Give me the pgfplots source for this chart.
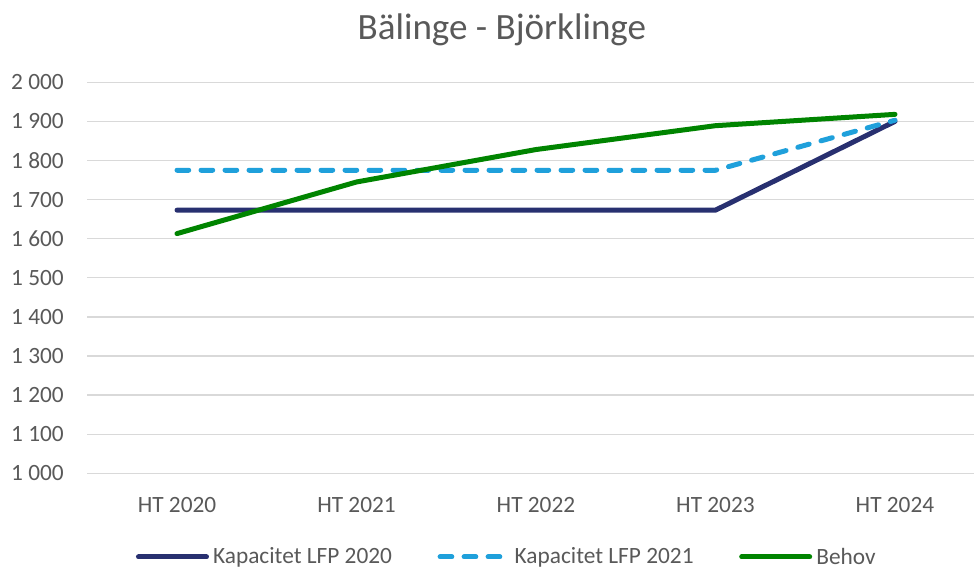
\documentclass[border=0pt]{standalone}
\usepackage{pgfplots}
\pgfplotsset{compat=1.18}
\usepackage{fontspec}
\setmainfont{Carlito}
\definecolor{navyline}{RGB}{40,48,112}
\definecolor{blueline}{RGB}{31,160,219}
\definecolor{greenline}{RGB}{0,132,0}
\definecolor{textgray}{RGB}{89,89,89}
\definecolor{gridgray}{RGB}{217,217,217}
\begin{document}
\begin{tikzpicture}
\path[use as bounding box] (0,0) rectangle (730.5pt,425.25pt);
\begin{axis}[
  at={(65.44pt,70.28pt)}, anchor=south west,
  scale only axis, width=673.1pt, height=293.25pt,
  xmin=-0.5, xmax=4.5, ymin=1000, ymax=2000,
  xtick={0,1,2,3,4},
  xticklabels={HT 2020,HT 2021,HT 2022,HT 2023,HT 2024},
  ytick={1000,1100,...,2000},
  ymajorgrids, grid style={gridgray, line width=1pt},
  axis line style={draw=none}, major tick length=0pt, tick style={draw=none},
  /pgf/number format/assume math mode=true,
  /pgf/number format/1000 sep={\ },
  tick label style={font=\fontsize{17.5pt}{20pt}\selectfont, text=textgray},
  yticklabel style={anchor=east, inner sep=0pt, xshift=-17.4pt},
  xticklabel style={anchor=north, inner sep=0pt, yshift=-17.6pt},
  title={Bälinge - Björklinge},
  title style={at={(rel axis cs:0.462,1.0902)}, anchor=base, inner sep=0pt,
    font=\fontsize{27.8pt}{32pt}\selectfont, text=textgray},
  legend columns=3,
  legend style={at={(rel axis cs:0.0543,-0.214)}, anchor=west, draw=none, fill=none,
    inner sep=0pt, outer sep=0pt,
    nodes={inner sep=0pt, anchor=west, text=textgray, font=\fontsize{17.5pt}{20pt}\selectfont},
    /tikz/every even column/.append style={column sep=34.2pt},
    /tikz/every odd column/.append style={column sep=3.1pt}},
  legend image code/.code={\draw[#1] (0pt,0pt) -- (51pt,0pt);},
]
\addplot[navyline, line width=3.75pt, line cap=round, line join=round] coordinates {(0,1673) (1,1673) (2,1673) (3,1673) (4,1900)};
\addlegendentry{Kapacitet LFP 2020}
\addplot[blueline, line width=3.75pt, line cap=round, line join=round, dash pattern=on 8.8pt off 9.2pt] coordinates {(0,1775) (1,1775) (2,1775) (3,1775) (4,1903)};
\addlegendentry{Kapacitet LFP 2021}
\addplot[greenline, line width=3.75pt, line cap=round, line join=round] coordinates {(0,1613) (1,1745) (2,1828) (3,1889) (4,1918)};
\addlegendentry{Behov}
\end{axis}
\end{tikzpicture}
\end{document}
